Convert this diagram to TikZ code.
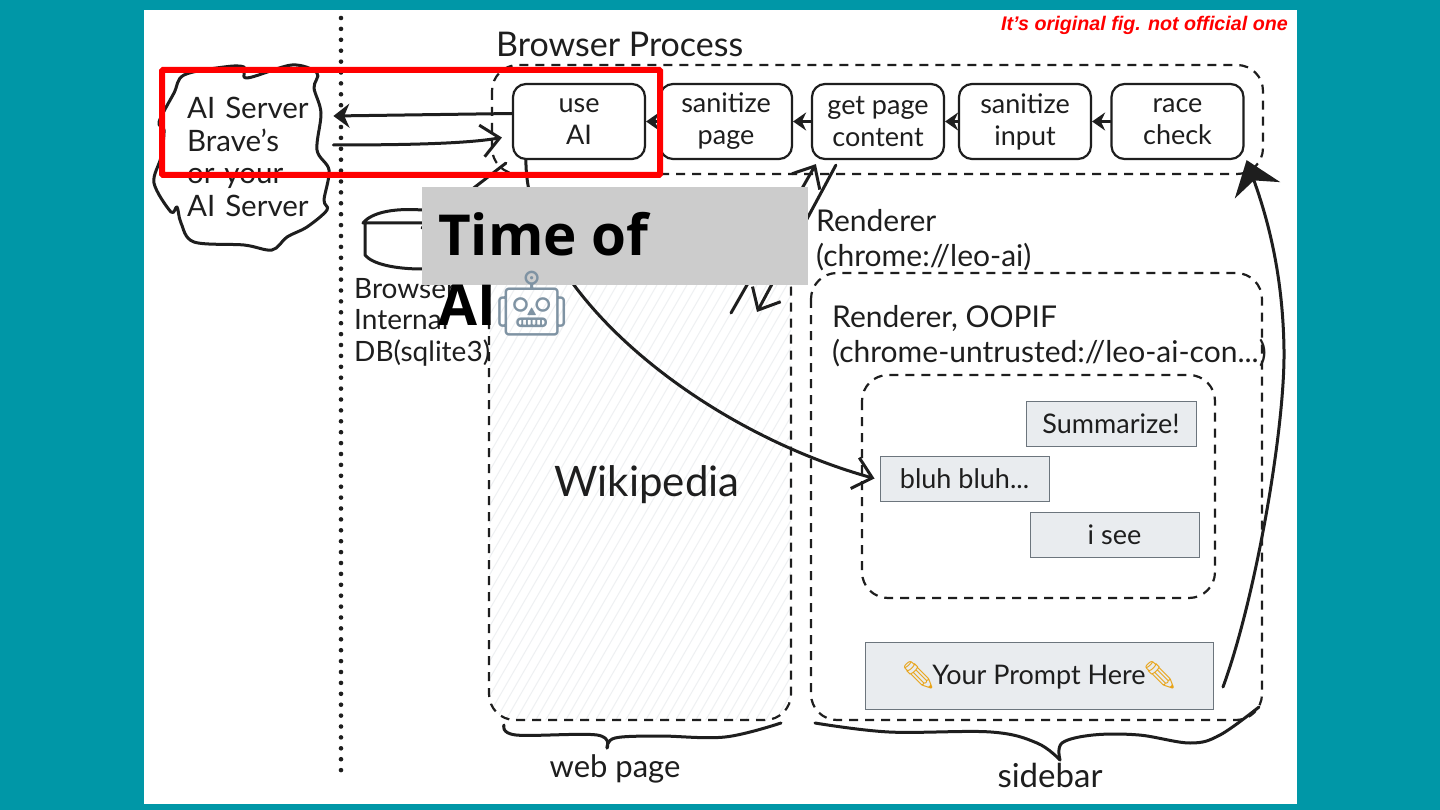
\documentclass[tikz,border=0pt]{standalone}
\usepackage{fontspec}
\setmainfont{Lato}
\newfontfamily\titlefont{Open Sans}
\newfontfamily\notefont{Liberation Sans}
\newfontfamily\emojifont{Noto Emoji}
\usetikzlibrary{arrows.meta}
\definecolor{teal}{HTML}{0097A7}
\definecolor{ink}{HTML}{1E1E1E}
\definecolor{hatch}{HTML}{EEF0F2}
\definecolor{chat}{HTML}{E9ECEF}
\definecolor{chatline}{HTML}{6C757D}
\definecolor{titlegray}{HTML}{CCCCCC}
\definecolor{robot}{HTML}{7F93A3}
\definecolor{pencil}{HTML}{E8A317}
\tikzset{
  procbox/.style={draw=ink, line width=2.2pt, rounded corners=13pt, minimum width=132pt,
    minimum height=75pt, align=center, inner sep=0pt, font=\fontsize{27}{32}\selectfont, text=ink},
  dashbox/.style={draw=ink, line width=2.2pt, dash pattern=on 9pt off 7pt, rounded corners=26pt},
  handtext/.style={anchor=west, inner sep=0pt, text=ink, font=\fontsize{30}{35}\selectfont},
  chatbox/.style={draw=chatline, line width=1pt, fill=chat, inner sep=0pt, text=ink,
    font=\fontsize{27}{30}\selectfont},
  hand/.style={draw=ink, line width=3pt, line cap=round, line join=round},
  barb/.style={hand, -{Straight Barb[length=18pt,width=32pt]}},
  small/.style={hand, -{Stealth[length=13pt,width=18pt]}},
}
\begin{document}
\begin{tikzpicture}[x=1pt, y=-1pt]
  \useasboundingbox (0,0) rectangle (1440,810);
  \fill[teal] (0,0) rectangle (1440,810);
  \fill[white] (144,10) rectangle (1297,804);
  % web page hatching
  \begin{scope}
    \clip[rounded corners=26pt] (489,262) rectangle (791,720);
    \foreach \x in {0,10,...,600} \draw[hatch, line width=1pt] (\x+200,730) -- (\x+480,245);
  \end{scope}
  % dotted divider
  \draw[ink, line width=4.6pt, line cap=round, dash pattern=on 0pt off 10.9pt] (341,18) -- (341,772);
  % ai server
  \draw[hand] plot[smooth cycle, tension=0.55] coordinates {
    (184,75) (224,67) (244,67) (247,78) (292,65) (317,73) (314,88) (321,113) (317,150)
    (329,170) (324,200) (327,210) (307,227) (287,237) (272,250) (244,245) (194,242)
    (181,223) (177,207) (171,212) (154,183) (161,157) (164,130) (159,122) (174,93)};
  \node[handtext, align=left, text width=146pt, font=\fontsize{29.5}{32.7}\selectfont] (server) at (187,157)
    {AI Server\\Brave's\\or your\\AI Server};
  % database
  \coordinate (browserdb) at (422,228);
  \draw[hand] (422,210) .. controls (395,208) and (372,212) .. (363,223) -- (422,223)
    (365,223) -- (365,255) .. controls (372,264) and (395,269) .. (422,269);
  \node[handtext, align=left, font=\fontsize{28}{31.5}\selectfont] (dblabel) at (354,322)
    {Browser\\Internal\\DB(sqlite3)};
  % browser process
  \node[handtext, font=\fontsize{34}{38}\selectfont] (browserlabel) at (496,44) {Browser Process};
  \draw[dashbox] (492,65) rectangle (1263,174);
  \node[procbox] (useai) at (579,121.5) {use\\AI};
  \node[procbox] (sanpage) at (726,121.5) {sanitize\\page};
  \node[procbox] (getpage) at (878,121.5) {get page\\content};
  \node[procbox] (saninput) at (1025,121.5) {sanitize\\input};
  \node[procbox] (racecheck) at (1177.5,121.5) {race\\check};
  \draw[small] (racecheck) -- (saninput);
  \draw[small] (saninput) -- (getpage);
  \draw[small] (getpage) -- (sanpage);
  \draw[small] (sanpage) -- (useai);
  % web page
  \draw[dashbox] (489,262) rectangle (791,720);
  \node[anchor=center, inner sep=0pt, text=ink, font=\fontsize{42}{46}\selectfont] (wiki) at (647,485) {Wikipedia};
  % sidebar
  \node[handtext, align=left] (rendlabel) at (816,240) {Renderer\\(chrome://leo-ai)};
  \draw[dashbox] (811,273) rectangle (1262,720);
  \node[handtext, align=left] (ooplabel) at (832,336) {Renderer, OOPIF\\(chrome-untrusted://leo-ai-con...)};
  \draw[dashbox] (862,375) rectangle (1215,598);
  \node[chatbox, minimum width=170pt, minimum height=45pt] (summarize) at (1111,423.5) {Summarize!};
  \node[chatbox, minimum width=169pt, minimum height=45pt] (bluh) at (964.5,478.5) {bluh bluh...};
  \node[chatbox, minimum width=169pt, minimum height=45pt] (isee) at (1114.5,534.5) {i see};
  \node[chatbox, minimum width=348pt, minimum height=67pt] (prompt) at (1039,675.5)
    {{\emojifont\textcolor{pencil}{^^^^270f}}\kern-3pt Your Prompt Here\kern-3pt{\emojifont\textcolor{pencil}{^^^^270f}}};
  % braces
  \draw[hand] plot[smooth, tension=0.6] coordinates {(504,725) (516,735) (597,735) (607,748)};
  \draw[hand] plot[smooth, tension=0.6] coordinates {(607,748) (615,738) (659,736) (725,737) (781,723)};
  \node[handtext, anchor=center, font=\fontsize{31}{35}\selectfont] (weblabel) at (615,769) {web page};
  \draw[hand] plot[smooth, tension=0.6] coordinates {(815,723) (889,732) (991,732) (1037,743) (1060,760)};
  \draw[hand] plot[smooth, tension=0.6] coordinates {(1060,760) (1062,743) (1093,735) (1139,735) (1190,743) (1220,735) (1259,707)};
  \node[handtext, anchor=center, font=\fontsize{33}{35}\selectfont] (sidelabel) at (1050,775) {sidebar};
  % connectors
  \draw[hand, -{Stealth[length=16pt,width=24pt]}] ([yshift=8pt]useai.west) -- ([yshift=41pt]server.east);
  \draw[barb] ([yshift=12pt]server.east) .. controls (420,145) and (470,143) .. ([xshift=-10pt,yshift=-16pt]useai.west);
  \coordinate (webup) at (731,313);
  \coordinate (webdown) at (757,312);
  \coordinate (promptend) at (1223,687);
  \draw[hand] ([xshift=-6pt,yshift=-3pt]useai.south west) -- (browserdb);
  \draw[barb] ([xshift=14pt]useai.south west) .. controls (526,290) and (700,430) .. ([xshift=-5pt]bluh.west);
  \draw[barb] (webup) -- ([xshift=5pt,yshift=-4pt]getpage.south west);
  \draw[barb] ([xshift=25pt,yshift=-5pt]getpage.south west) -- (webdown);
  \draw[hand, -{Stealth[length=32pt,width=48pt]}] (promptend) .. controls (1255,600) and (1285,430) .. (1284,350)
    .. controls (1283,280) and (1270,225) .. ([xshift=2pt]racecheck.south east);
  % overlays
  \draw[red, line width=6pt, rounded corners=1pt] (162,70) rectangle (660,175);
  \node[fill=titlegray, minimum width=386pt, minimum height=98pt, inner sep=0pt] (titlebox) at (615,236) {};
  \node[anchor=north west, inner sep=0pt, align=left, font=\fontsize{56.5}{70}\titlefont\bfseries] (title) at (438,212)
    {Time of\\AI\kern-4pt{\fontsize{64}{70}\emojifont\textcolor{robot}{^^^^^1f916}}};
  \node[anchor=east, inner sep=0pt, text=red, font=\fontsize{19.7}{24}\notefont\bfseries\itshape] (note) at (1288,25)
    {It’s original fig. not official one};
\end{tikzpicture}
\end{document}
